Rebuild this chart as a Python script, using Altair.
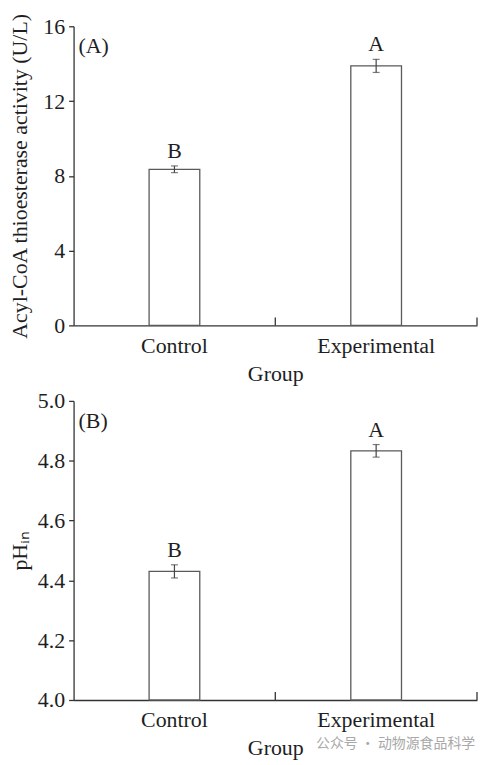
import altair as alt
import pandas as pd

groups = ["Control", "Experimental"]

# (A) Acyl-CoA thioesterase activity (U/L)
acot_mean = [8.35, 13.88]
acot_err = [0.18, 0.35]
acot_letters = ["B", "A"]

# (B) intracellular pH
ph_mean = [4.43, 4.833]
ph_err = [0.022, 0.021]
ph_letters = ["B", "A"]

SERIF = "Liberation Serif"
INK = "#1e1e24"
W, H = 406, 301
FS = 22


def panel(means, errs, letters, tag, y_title, domain, ticks, fmt, base):
    df = pd.DataFrame({"group": groups, "mean": means, "err": errs, "letter": letters})
    df["lo"] = df["mean"] - df["err"]
    df["hi"] = df["mean"] + df["err"]

    x = alt.X(
        "group:N",
        sort=groups,
        scale=alt.Scale(paddingInner=0, paddingOuter=0),
        axis=alt.Axis(title="Group", labelAngle=0, ticks=False, labelPadding=10,
                      titlePadding=7),
    )
    y_scale = alt.Scale(domain=domain, nice=False, zero=False)
    base_chart = alt.Chart(df)

    bars = base_chart.mark_bar(size=51, fill="white", stroke="#5a5a5a", strokeWidth=1.3).encode(
        x=x,
        y=alt.Y("mean:Q", scale=y_scale,
                axis=alt.Axis(title=y_title, values=ticks, format=fmt, grid=False,
                              tickSize=5, labelPadding=4, titleX=-42)),
        y2=alt.datum(base),
    )
    stems = base_chart.mark_rule(color="#444", strokeWidth=1.2).encode(
        x=x, y=alt.Y("lo:Q", scale=y_scale), y2="hi:Q"
    )
    cap_lo = base_chart.mark_tick(size=7, thickness=1.2, color="#444").encode(
        x=x, y=alt.Y("lo:Q", scale=y_scale)
    )
    cap_hi = base_chart.mark_tick(size=7, thickness=1.2, color="#444").encode(
        x=x, y=alt.Y("hi:Q", scale=y_scale)
    )
    labels = base_chart.mark_text(font=SERIF, fontSize=FS, color=INK, dy=-3, baseline="bottom").encode(
        x=x, y=alt.Y("hi:Q", scale=y_scale), text="letter:N"
    )
    # upward ticks at the category boundaries
    edge_ticks = base_chart.mark_rule(color="#333", strokeWidth=1.3).encode(
        x=alt.X("group:N", sort=groups, bandPosition=1),
        y=alt.value(H - 8),
        y2=alt.value(H),
    )
    tag_text = alt.Chart(pd.DataFrame({"t": [tag]})).mark_text(
        font=SERIF, fontSize=FS, color=INK, align="left", baseline="middle"
    ).encode(x=alt.value(5), y=alt.value(20), text="t:N")

    return alt.layer(bars, stems, cap_lo, cap_hi, labels, edge_ticks, tag_text).properties(
        width=W, height=H
    )


top = panel(acot_mean, acot_err, acot_letters, "(A)",
            "Acyl-CoA thioesterase activity (U/L)", [0, 16], [0, 4, 8, 12, 16], "d", 0)
bottom = panel(ph_mean, ph_err, ph_letters, "(B)",
               "pHᵢₙ", [4.0, 5.0], [4.0, 4.2, 4.4, 4.6, 4.8, 5.0], ".1f", 4.0)

watermark = alt.Chart(pd.DataFrame({"t": ["公众号 · 动物源食品科学"]})).mark_text(
    font="Noto Sans CJK SC", fontSize=14, color="#a8a8a8", align="left", baseline="middle"
).encode(x=alt.value(244), y=alt.value(345), text="t:N")
bottom = alt.layer(bottom, watermark)

chart = (
    alt.vconcat(top, bottom, spacing=6)
    .properties(padding={"top": 2, "left": 0, "right": 0, "bottom": 0})
    .configure_view(stroke=None)
    .configure_axis(
        labelFont=SERIF, titleFont=SERIF, labelFontSize=FS, titleFontSize=FS,
        labelColor=INK, titleColor=INK, titleFontWeight="normal",
        domainColor="#333", tickColor="#333", domainWidth=1.3, tickWidth=1.3,
    )
)

chart.save("out.html", embed_options={"renderer": "svg", "actions": False})
